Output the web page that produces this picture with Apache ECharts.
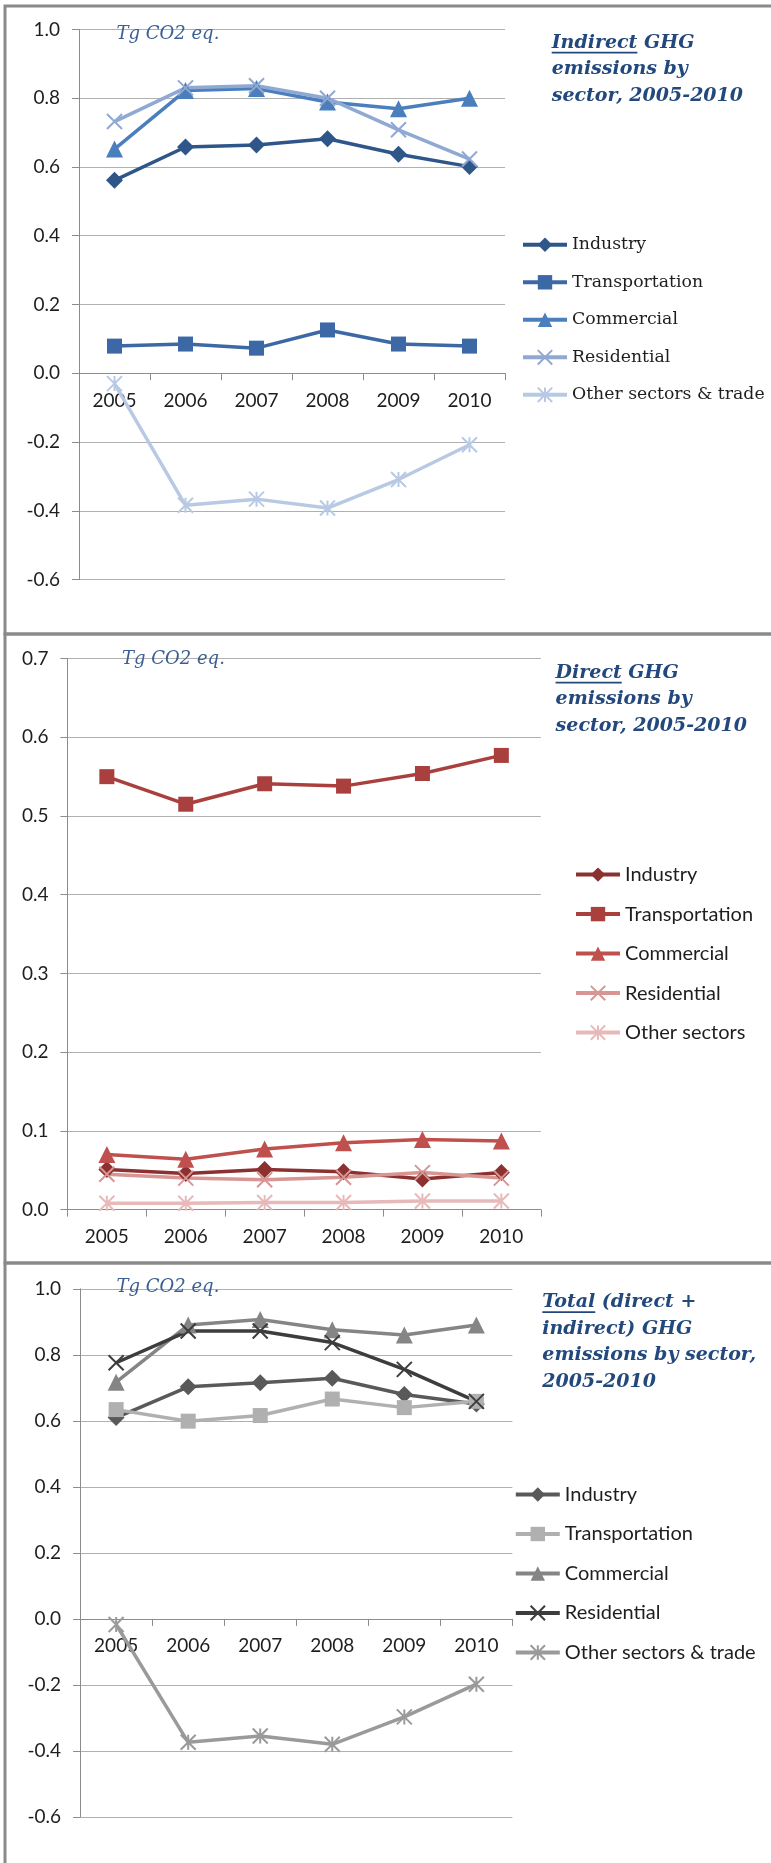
<!DOCTYPE html>
<html><head><meta charset="utf-8">
<style>html,body{margin:0;padding:0;background:#fff}#c{width:771px;height:1863px}</style>
<script src="https://cdn.jsdelivr.net/npm/echarts@6/dist/echarts.min.js"></script>
</head><body><div id="c"></div>
<script>
// ---------- data ----------
const years = ['2005', '2006', '2007', '2008', '2009', '2010'];
const legendNamesIndirect = ['Industry', 'Transportation', 'Commercial', 'Residential', 'Other sectors & trade'];
const legendNamesDirect = ['Industry', 'Transportation', 'Commercial', 'Residential', 'Other sectors'];
const legendNamesTotal = ['Industry', 'Transportation', 'Commercial', 'Residential', 'Other sectors & trade'];

const indirectIndustry = [0.561, 0.658, 0.664, 0.682, 0.637, 0.601];
const indirectTransportation = [0.079, 0.085, 0.073, 0.126, 0.085, 0.079];
const indirectCommercial = [0.652, 0.822, 0.828, 0.789, 0.769, 0.800];
const indirectResidential = [0.732, 0.830, 0.836, 0.800, 0.708, 0.623];
const indirectOther = [-0.030, -0.384, -0.366, -0.392, -0.309, -0.208];

const directIndustry = [0.051, 0.046, 0.051, 0.048, 0.039, 0.047];
const directTransportation = [0.550, 0.515, 0.541, 0.538, 0.554, 0.577];
const directCommercial = [0.070, 0.064, 0.077, 0.085, 0.089, 0.087];
const directResidential = [0.045, 0.040, 0.038, 0.041, 0.047, 0.040];
const directOther = [0.008, 0.008, 0.009, 0.009, 0.011, 0.011];

const totalIndustry = [0.610, 0.703, 0.715, 0.729, 0.680, 0.651];
const totalTransportation = [0.634, 0.599, 0.616, 0.666, 0.640, 0.659];
const totalCommercial = [0.717, 0.890, 0.907, 0.876, 0.860, 0.890];
const totalResidential = [0.776, 0.872, 0.872, 0.837, 0.756, 0.659];
const totalOther = [-0.017, -0.374, -0.355, -0.380, -0.297, -0.198];

const titleIndirect = ['Indirect', ' GHG', 'emissions by', 'sector, 2005-2010'];
const titleDirect = ['Direct', ' GHG', 'emissions by', 'sector, 2005-2010'];
const titleTotal = ['Total', ' (direct +', 'indirect) GHG', 'emissions by sector,', '2005-2010'];
const unitLabel = 'Tg CO2 eq.';

// ---------- styling ----------
const SANS = 'Lato';
const SERIF = 'DejaVu Serif';
const colorsIndirect = ['#2f5689', '#3c69a5', '#4a7ebd', '#8fa9d3', '#b8c9e4'];
const colorsDirect = ['#8c3030', '#a9403e', '#c0504d', '#d79593', '#e7bab9'];
const colorsTotal = ['#595959', '#b0b0b0', '#858585', '#3d3d3d', '#9a9a9a'];
const X_PATH = 'path://M0,0L10,10M10,0L0,10';
const STAR_PATH = 'path://M0,0L10,10M10,0L0,10M5,0L5,10';
const symbols = [
  {s: 'diamond', size: 17, stroke: false},
  {s: 'rect', size: 15, stroke: false},
  {s: 'triangle', size: 17, stroke: false},
  {s: X_PATH, size: 15, stroke: true},
  {s: STAR_PATH, size: 15, stroke: true}
];

const panels = [
  {data: [indirectIndustry, indirectTransportation, indirectCommercial, indirectResidential, indirectOther],
   names: legendNamesIndirect, colors: colorsIndirect,
   grid: {left: 79, top: 29.4, width: 426, height: 550.2}, min: -0.6, max: 1.0, interval: 0.2,
   legend: {left: 521, top: 235.8, font: SERIF, size: 17.3},
   unit: {x: 116.5, y: 34.7}, title: titleIndirect, titlePos: {x: 551.7, y: 42.8}},
  {data: [directIndustry, directTransportation, directCommercial, directResidential, directOther],
   names: legendNamesDirect, colors: colorsDirect,
   grid: {left: 67.4, top: 658.6, width: 473.4, height: 551}, min: 0, max: 0.7, interval: 0.1,
   legend: {left: 574, top: 864.6, font: SANS, size: 20},
   unit: {x: 122, y: 659.4}, title: titleDirect, titlePos: {x: 555.6, y: 672.8}},
  {data: [totalIndustry, totalTransportation, totalCommercial, totalResidential, totalOther],
   names: legendNamesTotal, colors: colorsTotal,
   grid: {left: 80.1, top: 1288.8, width: 432.3, height: 528.1}, min: -0.6, max: 1.0, interval: 0.2,
   legend: {left: 513.8, top: 1484.5, font: SANS, size: 20},
   unit: {x: 116.5, y: 1287.7}, title: titleTotal, titlePos: {x: 542.3, y: 1302.3}}
];

const grids = [], xAxes = [], yAxes = [], series = [], legends = [], graphics = [];
const labelMap = {};

// panel borders
[[6, 628], [634, 629], [1263, 640]].forEach(([y, h]) => {
  graphics.push({type: 'rect', shape: {x: 5, y: y, width: 800, height: h},
    style: {fill: 'none', stroke: '#8a8a8a', lineWidth: 3}, silent: true, z: 0});
});

const TITLE_FONT = 'italic bold 19px "DejaVu Serif"';
const TITLE_COLOR = '#23497c';
const measure = (() => { const c = document.createElement('canvas').getContext('2d'); c.font = TITLE_FONT; return t => c.measureText(t).width; })();

panels.forEach((p, gi) => {
  grids.push(Object.assign({containLabel: false}, p.grid));
  // axis sits at value 0: offset from the grid bottom in case onZero is not applied
  const zeroOffset = -p.grid.height * (0 - p.min) / (p.max - p.min);
  xAxes.push({type: 'category', gridIndex: gi, data: years, boundaryGap: true, position: 'bottom',
    offset: zeroOffset,
    axisLine: {show: true, onZero: true, onZeroAxisIndex: gi, lineStyle: {color: '#8c8c8c', width: 1}},
    axisTick: {show: true, length: 7, lineStyle: {color: '#8c8c8c'}},
    axisLabel: {margin: 18, fontFamily: SANS, fontSize: 19, color: '#1e1e1e'},
    splitLine: {show: false}, z: 1});
  yAxes.push({type: 'value', gridIndex: gi, min: p.min, max: p.max, interval: p.interval,
    axisLine: {show: true, lineStyle: {color: '#8c8c8c', width: 1}},
    axisTick: {show: true, length: 7, lineStyle: {color: '#8c8c8c'}},
    axisLabel: {margin: 19, fontFamily: SANS, fontSize: 19, color: '#1e1e1e', formatter: v => v.toFixed(1)},
    splitLine: {show: true, lineStyle: {color: '#b0b0b0', width: 1}}});
  const legendData = [];
  p.data.forEach((arr, si) => {
    const id = 'p' + gi + 's' + si;
    labelMap[id] = p.names[si];
    const sym = symbols[si];
    const col = p.colors[si];
    series.push({type: 'line', name: id, xAxisIndex: gi, yAxisIndex: gi, data: arr,
      symbol: sym.s, symbolSize: sym.size, showAllSymbol: true,
      lineStyle: {color: col, width: 3.5},
      itemStyle: sym.stroke ? {color: col, borderColor: col, borderWidth: 2} : {color: col},
      emphasis: {disabled: true}, z: 3});
    legendData.push(id);
  });
  legends.push({orient: 'vertical', left: p.legend.left, top: p.legend.top, padding: 0,
    itemWidth: 44, itemHeight: 18, itemGap: 19.5, data: legendData,
    formatter: n => labelMap[n], selectedMode: false,
    lineStyle: {width: 4},
    textStyle: {fontFamily: p.legend.font, fontSize: p.legend.size, color: '#1e1e1e', lineHeight: 18}});
  // unit label
  graphics.push({type: 'text', left: p.unit.x, top: p.unit.y - 10, silent: true, z: 10,
    style: {text: unitLabel, font: 'italic 18px "DejaVu Serif"', fill: '#3a5f92', lineHeight: 20}});
  // title: first line composed of underlined word + rest
  const tx = p.titlePos.x, ty = p.titlePos.y, lh = 26.6;
  const first = p.title[0], rest = p.title[1];
  graphics.push({type: 'text', left: tx, top: ty - lh / 2, silent: true, z: 10,
    style: {text: first + rest + '\n' + p.title.slice(2).join('\n'), font: TITLE_FONT, fill: TITLE_COLOR, lineHeight: lh}});
  const w = measure(first);
  graphics.push({type: 'rect', shape: {x: tx, y: ty + 9, width: w, height: 1.7},
    style: {fill: TITLE_COLOR}, silent: true, z: 10});
});

const chart = echarts.init(document.getElementById('c'), null, {renderer: 'canvas'});
chart.setOption({
  backgroundColor: '#ffffff',
  animation: false,
  grid: grids, xAxis: xAxes, yAxis: yAxes, series: series, legend: legends,
  graphic: {elements: graphics}
});
</script>
</body></html>
